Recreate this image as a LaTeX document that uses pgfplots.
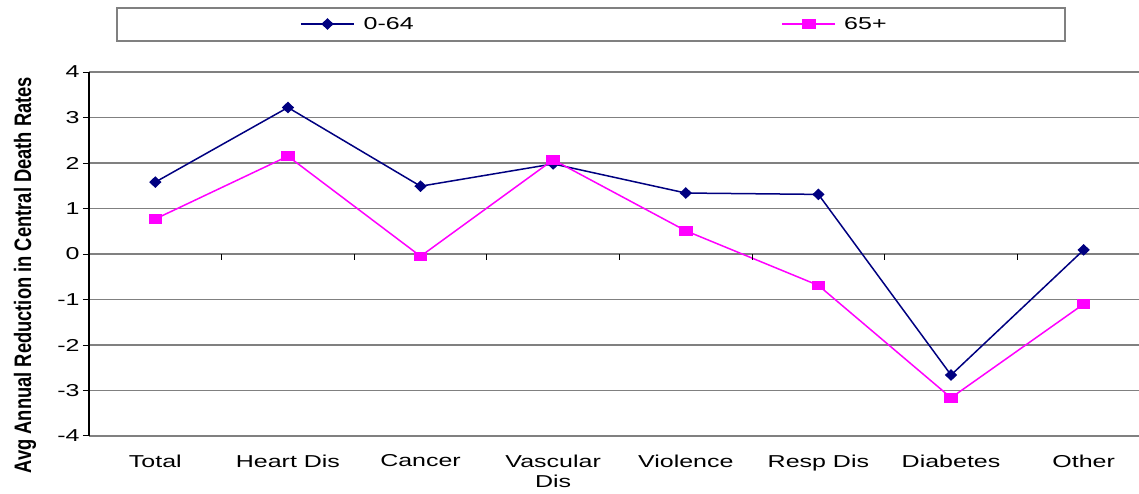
\documentclass[border=0pt]{standalone}
\usepackage{pgfplots}
\pgfplotsset{compat=1.18}
\usepackage{fontspec}
\setmainfont{Liberation Sans}
\newfontfamily\widefont[FakeStretch=1.45]{Liberation Sans}
\definecolor{navyc}{RGB}{0,0,128}
\definecolor{magc}{RGB}{255,0,255}
\definecolor{gridc}{RGB}{128,128,128}
\newcommand{\tickfont}{\widefont\fontsize{17.3}{21}\selectfont}
\begin{document}
\begin{tikzpicture}
\path[use as bounding box] (0,0) rectangle (1139bp,494bp);
\draw[gridc, line width=1.2bp] (117bp,453bp) rectangle (1065bp,486bp);
\begin{axis}[
  at={(89bp,58bp)}, anchor=south west,
  scale only axis, width=1061bp, height=364bp,
  xmin=-0.5, xmax=7.5, ymin=-4, ymax=4,
  axis x line*=bottom,
  x axis line style={draw=none},
  axis y line*=left,
  y axis line style={black, line width=1.3bp},
  ytick={-4,-3,...,4},
  ymajorgrids,
  grid style={gridc, line width=1.2bp},
  tick align=outside,
  major tick length=6bp,
  ytick style={black, line width=1bp},
  xtick style={draw=none},
  yticklabel style={font=\tickfont},
  /pgf/number format/assume math mode=true,
  xtick={0,...,7},
  xticklabels={Total, Heart Dis, Cancer, {Vascular\\Dis}, Violence, Resp Dis, Diabetes, Other},
  xticklabel style={font=\tickfont, align=center, yshift=-9bp},
  ylabel={\scalebox{1}[1.3]{\bfseries\fontsize{18.4}{20}\selectfont Avg Annual Reduction in Central Death Rates}},
  ylabel style={at={(axis description cs:-0.0603,0.442)}, anchor=center, rotate=0},
  legend style={at={(axis description cs:0.1989,1.1319)}, anchor=west, draw=none, fill=none,
    legend columns=2, column sep=0pt, inner sep=0pt,
    nodes={inner sep=0pt, font=\tickfont}},
  legend image code/.code={\draw[mark repeat=2,mark phase=2] plot coordinates {(0bp,0bp) (26.5bp,0bp) (53bp,0bp)};},
]
\addplot[navyc, line width=1.5bp, mark=diamond*, mark size=4.8bp, mark options={xscale=1.4, solid, fill=navyc}]
  coordinates {(0,1.58) (1,3.22) (2,1.49) (3,1.98) (4,1.34) (5,1.31) (6,-2.66) (7,0.09)};
\addlegendentry{\hspace{9bp}\makebox[418bp][l]{0-64}}
\addplot[magc, line width=1.5bp, mark=square*, mark size=4bp, mark options={xscale=1.5, solid, fill=magc}]
  coordinates {(0,0.77) (1,2.15) (2,-0.05) (3,2.07) (4,0.51) (5,-0.69) (6,-3.16) (7,-1.10)};
\addlegendentry{\hspace{8bp}65+}
\pgfplotsinvokeforeach{0.5,1.5,2.5,3.5,4.5,5.5,6.5}{
  \draw[black, line width=1bp] (axis cs:#1,0) -- ++(0bp,-6bp);
}
\end{axis}
\end{tikzpicture}
\end{document}
